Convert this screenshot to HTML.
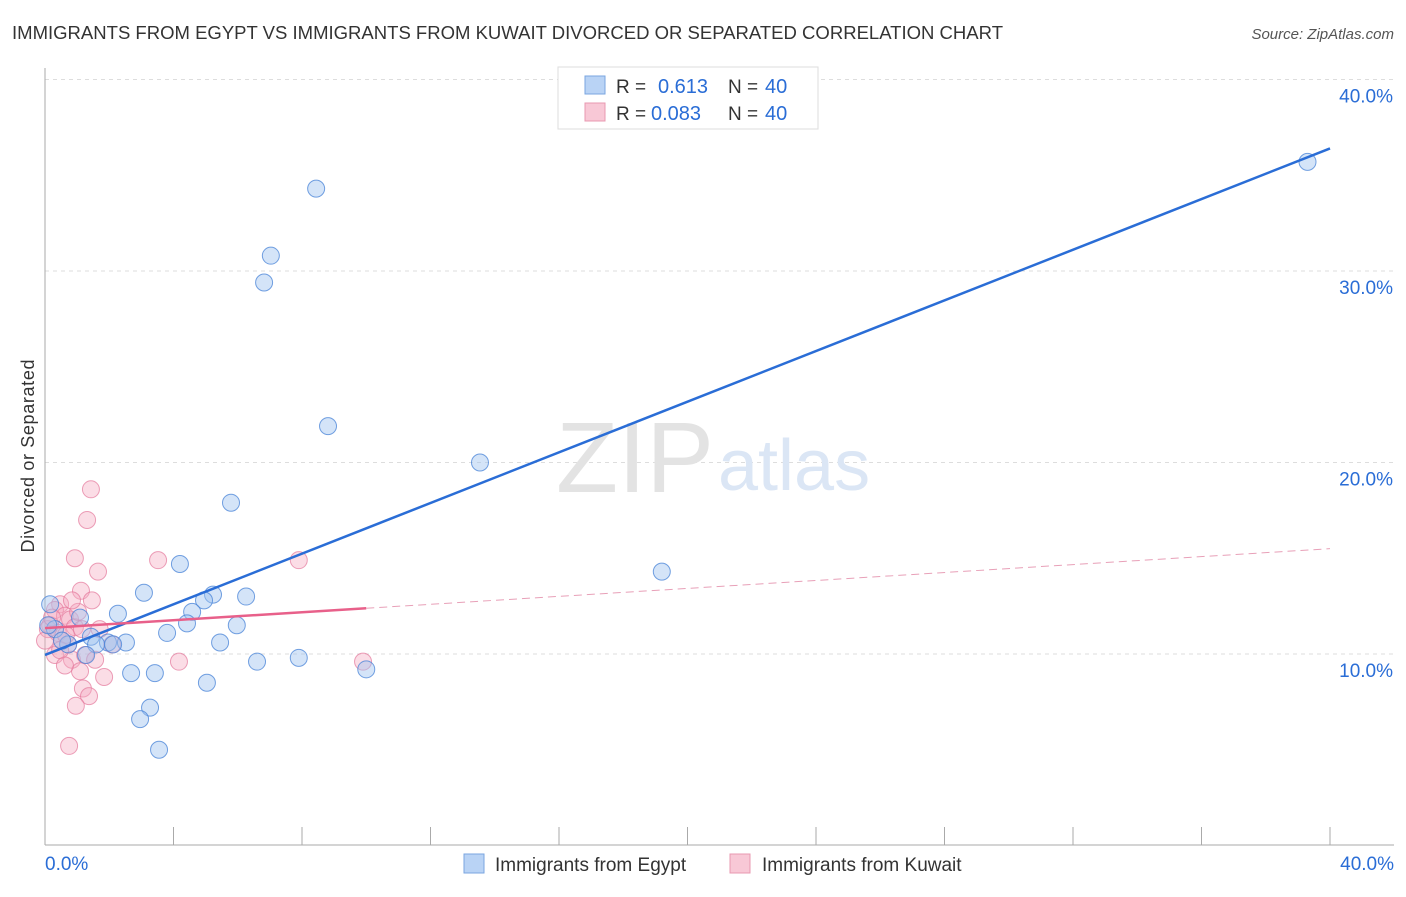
<!DOCTYPE html>
<html><head><meta charset="utf-8"><style>
body{margin:0;background:#fff;font-family:"Liberation Sans",sans-serif;}
svg text{font-family:"Liberation Sans",sans-serif;}
</style></head><body>
<svg width="1406" height="892">
<text x="12" y="39" font-size="18" fill="#333" textLength="991" lengthAdjust="spacingAndGlyphs">IMMIGRANTS FROM EGYPT VS IMMIGRANTS FROM KUWAIT DIVORCED OR SEPARATED CORRELATION CHART</text>
<text x="1394" y="39" font-size="15" fill="#555" font-style="italic" text-anchor="end">Source: ZipAtlas.com</text>
<text transform="translate(34,456) rotate(-90)" font-size="18" fill="#333" text-anchor="middle" textLength="193">Divorced or Separated</text>
<g id="grid"></g>
<text x="714" y="492" font-size="100" fill="#e3e3e3" text-anchor="end" font-family="Liberation Serif" textLength="158" lengthAdjust="spacingAndGlyphs">ZIP</text>
<text x="718" y="490" font-size="72" fill="#dbe6f5">atlas</text>
<g id="marks"></g>
<g>
<rect x="558" y="67" width="260" height="62" fill="#fff" stroke="#ddd"/>
<rect x="585" y="76" width="20" height="18" fill="#b9d3f5" stroke="#7aa6e0"/>
<text x="616" y="93" font-size="19" fill="#333">R = </text><text x="658" y="93" font-size="20" fill="#2a6dd6">0.613</text>
<text x="728" y="93" font-size="19" fill="#333">N = </text><text x="765" y="93" font-size="20" fill="#2a6dd6">40</text>
<rect x="585" y="103" width="20" height="18" fill="#f8c8d6" stroke="#e898b0"/>
<text x="616" y="120" font-size="19" fill="#333">R = </text><text x="651" y="120" font-size="20" fill="#2a6dd6">0.083</text>
<text x="728" y="120" font-size="19" fill="#333">N = </text><text x="765" y="120" font-size="20" fill="#2a6dd6">40</text>
</g>
<g>
<rect x="464" y="854" width="20" height="19" fill="#b9d3f5" stroke="#7aa6e0"/>
<text x="495" y="871" font-size="19" fill="#333">Immigrants from Egypt</text>
<rect x="730" y="854" width="20" height="19" fill="#f8c8d6" stroke="#e898b0"/>
<text x="762" y="871" font-size="19" fill="#333">Immigrants from Kuwait</text>
</g>
</svg>
<script>
const xTicks=[0,4,8,12,16,20,24,28,32,36,40];
const yTicks=[10,20,30,40];
const egyptX=[39.3,8.44,7.03,6.82,8.81,13.54,5.79,19.2,4.2,3.08,5.23,6.26,4.95,2.27,4.58,5.97,4.42,3.8,1.09,1.43,2.52,1.96,2.12,1.59,5.45,1.28,0.72,6.6,7.9,10.0,2.68,3.42,5.04,3.27,2.96,3.55,0.16,0.31,0.53,0.1];
const egyptY=[35.7,34.3,30.8,29.4,21.9,20.0,17.9,14.3,14.7,13.2,13.1,13.0,12.8,12.1,12.2,11.5,11.6,11.1,11.9,10.9,10.6,10.6,10.5,10.5,10.6,9.95,10.5,9.6,9.8,9.2,9.0,9.0,8.5,7.2,6.6,5.0,12.6,11.3,10.7,11.5];
const kuwaitX=[1.43,1.31,0.93,3.52,7.9,1.65,1.12,1.46,0.47,0.31,0.62,0.78,0.16,0.4,0.93,1.15,0.09,0.53,0.72,2.09,0.31,0.84,1.25,4.17,9.9,1.09,1.84,1.18,1.37,0.96,0.75,0.0,0.22,0.65,1.03,1.7,0.47,1.56,0.84,0.62];
const kuwaitY=[18.6,17.0,15.0,14.9,14.9,14.3,13.3,12.8,12.6,12.3,12.0,11.8,11.5,11.1,11.4,11.3,11.3,10.7,10.5,10.5,9.95,9.7,9.95,9.6,9.6,9.1,8.8,8.2,7.8,7.3,5.2,10.7,11.9,11.0,12.2,11.3,10.2,9.7,12.8,9.4];
const egyptTrend=[9.95,36.4];
const kuwaitTrend=[11.35,15.5];
const kuwaitSolidEnd=10.0;
const NS="http://www.w3.org/2000/svg";
function sx(v){return 45+v*1285/40;}
function sy(v){return 654-(v-10)*19.15;}
function mk(tag,attrs,parent){const e=document.createElementNS(NS,tag);for(const k in attrs)e.setAttribute(k,attrs[k]);parent.appendChild(e);return e;}
const grid=document.getElementById('grid');
for(const t of yTicks){
 const l=mk('line',{x1:45,x2:1394,y1:sy(t),y2:sy(t),stroke:'#ddd','stroke-dasharray':'4,4'},grid);
 
 
 const tx=mk('text',{x:1393,y:sy(t)+23,'font-size':19,fill:'#2a6dd6','text-anchor':'end'},grid);
 tx.textContent=t.toFixed(1)+'%';
 
 
}
mk('line',{x1:45,x2:45,y1:68,y2:845,stroke:'#aaa'},grid);
mk('line',{x1:45,x2:1394,y1:845,y2:845,stroke:'#aaa'},grid);
for(const t of xTicks){
 const l=mk('line',{x1:sx(t),x2:sx(t),y1:827,y2:845,stroke:'#aaa'},grid);
 
 
}
const xl0=mk('text',{x:45,y:870,'font-size':19,fill:'#2a6dd6'},grid);xl0.textContent='0.0%';


const xl1=mk('text',{x:1394,y:870,'font-size':19,fill:'#2a6dd6','text-anchor':'end'},grid);xl1.textContent='40.0%';


const marks=document.getElementById('marks');
for(let i=0;i<kuwaitX.length;i++){
 const c=mk('circle',{cx:sx(kuwaitX[i]),cy:sy(kuwaitY[i]),r:8.5,fill:'rgba(244,170,192,0.4)',stroke:'rgba(228,120,155,0.7)','stroke-width':1},marks);
 
 
}
for(let i=0;i<egyptX.length;i++){
 const c=mk('circle',{cx:sx(egyptX[i]),cy:sy(egyptY[i]),r:8.5,fill:'rgba(160,195,240,0.45)',stroke:'rgba(70,130,215,0.75)','stroke-width':1},marks);
 
 
}
const bt=mk('line',{x1:sx(0),y1:sy(egyptTrend[0]),x2:sx(40),y2:sy(egyptTrend[1]),stroke:'#2a6dd6','stroke-width':2.5},marks);


const kMid=kuwaitTrend[0]+(kuwaitTrend[1]-kuwaitTrend[0])*kuwaitSolidEnd/40;
const kt=mk('line',{x1:sx(0),y1:sy(kuwaitTrend[0]),x2:sx(kuwaitSolidEnd),y2:sy(kMid),stroke:'#e8608a','stroke-width':2.5},marks);


const kd=mk('line',{x1:sx(kuwaitSolidEnd),y1:sy(kMid),x2:sx(40),y2:sy(kuwaitTrend[1]),stroke:'#e8a0b8','stroke-width':1,'stroke-dasharray':'8,5'},marks);


</script>
</body></html>
